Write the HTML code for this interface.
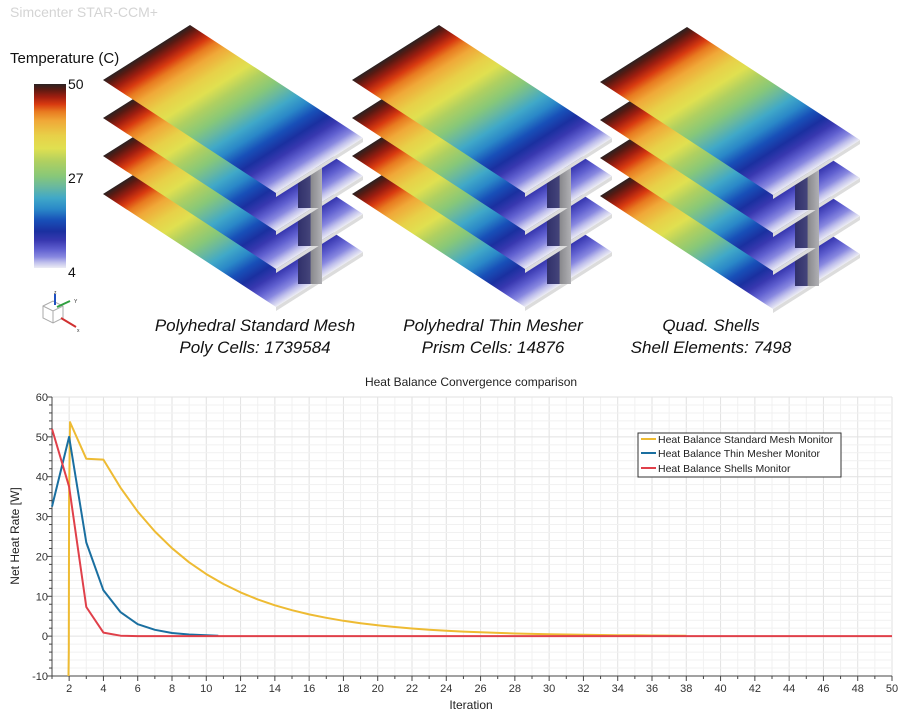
<!DOCTYPE html>
<html><head><meta charset="utf-8"><style>
html,body{margin:0;padding:0;background:#fff;width:916px;height:720px;overflow:hidden}
svg{display:block}
text{font-family:"Liberation Sans","DejaVu Sans",sans-serif}
</style></head><body>
<svg id="s" width="916" height="720" viewBox="0 0 916 720" xmlns="http://www.w3.org/2000/svg">
<defs>
<linearGradient id="pg" x1="0" y1="0" x2="1" y2="0">
<stop offset="0" stop-color="#2b2222"/><stop offset="0.03" stop-color="#5a1a12"/><stop offset="0.07" stop-color="#a01e10"/>
<stop offset="0.11" stop-color="#d83a10"/><stop offset="0.15" stop-color="#e87a20"/><stop offset="0.2" stop-color="#f0a838"/>
<stop offset="0.28" stop-color="#e8d048"/><stop offset="0.35" stop-color="#e0e050"/><stop offset="0.42" stop-color="#b0d060"/>
<stop offset="0.5" stop-color="#88c878"/><stop offset="0.56" stop-color="#68b8a0"/><stop offset="0.62" stop-color="#40a8c8"/>
<stop offset="0.68" stop-color="#2a88c8"/><stop offset="0.74" stop-color="#1850b8"/><stop offset="0.8" stop-color="#1a30a0"/>
<stop offset="0.85" stop-color="#3838b0"/><stop offset="0.9" stop-color="#6060d0"/><stop offset="0.94" stop-color="#8888e0"/>
<stop offset="0.97" stop-color="#c0c0ec"/><stop offset="1" stop-color="#ececf4"/>
</linearGradient>
<linearGradient id="cb" x1="0" y1="0" x2="0" y2="1">
<stop offset="0" stop-color="#2b2222"/><stop offset="0.03" stop-color="#5a1a12"/><stop offset="0.07" stop-color="#a01e10"/>
<stop offset="0.11" stop-color="#d83a10"/><stop offset="0.15" stop-color="#e87a20"/><stop offset="0.2" stop-color="#f0a838"/>
<stop offset="0.28" stop-color="#e8d048"/><stop offset="0.35" stop-color="#e0e050"/><stop offset="0.42" stop-color="#b0d060"/>
<stop offset="0.5" stop-color="#88c878"/><stop offset="0.56" stop-color="#68b8a0"/><stop offset="0.62" stop-color="#40a8c8"/>
<stop offset="0.68" stop-color="#2a88c8"/><stop offset="0.74" stop-color="#1850b8"/><stop offset="0.8" stop-color="#1a30a0"/>
<stop offset="0.85" stop-color="#3838b0"/><stop offset="0.9" stop-color="#6060d0"/><stop offset="0.94" stop-color="#8888e0"/>
<stop offset="0.97" stop-color="#c0c0ec"/><stop offset="1" stop-color="#ececf4"/>
</linearGradient>
<linearGradient id="fin" x1="0" y1="0" x2="1" y2="0">
<stop offset="0" stop-color="#30306a"/><stop offset="0.5" stop-color="#44447a"/><stop offset="0.55" stop-color="#8a8a8e"/><stop offset="1" stop-color="#b0b0b4"/>
</linearGradient>
</defs>
<text x="10" y="17" font-size="14" fill="#d4d4d4">Simcenter STAR-CCM+</text>
<text x="10" y="63" font-size="15" fill="#111">Temperature (C)</text>
<rect x="34" y="84" width="32" height="184" fill="url(#cb)"/>
<text x="68" y="89" font-size="14" fill="#111">50</text>
<text x="68" y="183" font-size="14" fill="#111">27</text>
<text x="68" y="277" font-size="14" fill="#111">4</text>
<g id="triad" stroke-width="1">
<path d="M43,306 L53,301 L63,306 L63,318 L53,323 L43,318 Z M43,306 L53,311 L63,306 M53,311 L53,323" fill="none" stroke="#aaa"/>
<line x1="55" y1="305" x2="55" y2="294" stroke="#2050c0" stroke-width="2"/>
<line x1="57" y1="307" x2="70" y2="301" stroke="#30a040" stroke-width="2"/>
<line x1="61" y1="318" x2="76" y2="327" stroke="#d03030" stroke-width="2"/>
<text x="54" y="294" font-size="5" fill="#333">z</text><text x="74" y="303" font-size="5" fill="#333">Y</text><text x="77" y="332" font-size="5" fill="#333">x</text>
</g>
<g id="plates"></g>
<g font-size="17" font-style="italic" fill="#111" text-anchor="middle">
<text x="255" y="331">Polyhedral Standard Mesh</text><text x="255" y="353">Poly Cells: 1739584</text>
<text x="493" y="331">Polyhedral Thin Mesher</text><text x="493" y="353">Prism Cells: 14876</text>
<text x="711" y="331">Quad. Shells</text><text x="711" y="353">Shell Elements: 7498</text>
</g>
<text x="471" y="386" font-size="12" fill="#222" text-anchor="middle">Heat Balance Convergence comparison</text>
<g id="chart"></g>
<text x="471" y="709" font-size="12" fill="#222" text-anchor="middle">Iteration</text>
<text transform="translate(19,536) rotate(-90)" font-size="12" fill="#222" text-anchor="middle">Net Heat Rate [W]</text>
<rect x="638" y="433" width="203" height="44" fill="#fff" stroke="#333" stroke-width="1"/>
<line x1="641" y1="439" x2="656" y2="439" stroke="#eebb33" stroke-width="2"/>
<line x1="641" y1="453" x2="656" y2="453" stroke="#1a6fa0" stroke-width="2"/>
<line x1="641" y1="468" x2="656" y2="468" stroke="#e0404a" stroke-width="2"/>
<g font-size="10.5" fill="#222"><text x="658" y="443">Heat Balance Standard Mesh Monitor</text>
<text x="658" y="457">Heat Balance Thin Mesher Monitor</text>
<text x="658" y="472">Heat Balance Shells Monitor</text></g>
</svg>
<script>
var NS="http://www.w3.org/2000/svg";
function el(p,n,a){var e=document.createElementNS(NS,n);for(var k in a)e.setAttribute(k,a[k]);p.appendChild(e);return e;}
var P=document.getElementById('plates');
[[103,80],[352,80],[600,82]].forEach(function(g){
  for(var k=3;k>=0;k--){
    var ox=g[0],oy=g[1]+k*38;
    // thickness
    el(P,'polygon',{points:(ox+173)+','+(oy+113)+' '+(ox+260)+','+(oy+58)+' '+(ox+260)+','+(oy+62)+' '+(ox+173)+','+(oy+117),fill:'#dcdcdc'});
    el(P,'rect',{x:0,y:0,width:1,height:1,fill:'url(#pg)',transform:'matrix(173,113,87,-55,'+ox+','+oy+')'});
    if(k>0){
      el(P,'rect',{x:g[0]+195,y:g[1]+k*38+50,width:24,height:40,fill:'url(#fin)'});
    }
  }
});
var C=document.getElementById('chart');
var X0=52,X1=892,Y0=397,Y1=676;
function px(i){return X0+(i-1)*(X1-X0)/49;}
function py(v){return Y1-(v+10)*(Y1-Y0)/70;}
for(var i=1;i<=50;i++){el(C,'line',{x1:px(i),x2:px(i),y1:Y0,y2:Y1,stroke:i%2==0?'#e2e2e2':'#f1f1f1','stroke-width':1});}
for(var v=-10;v<=60;v+=2){el(C,'line',{x1:X0,x2:X1,y1:py(v),y2:py(v),stroke:v%10==0?'#e2e2e2':'#f1f1f1','stroke-width':1});}
el(C,'line',{x1:X0,x2:X0,y1:Y0,y2:Y1,stroke:'#444'});
el(C,'line',{x1:X0,x2:X1,y1:Y1,y2:Y1,stroke:'#444'});
for(var v=-10;v<=60;v+=2){el(C,'line',{x1:X0-(v%10==0?5:3),x2:X0,y1:py(v),y2:py(v),stroke:'#444'});
 if(v%10==0){var t=el(C,'text',{x:X0-4,y:py(v)+4,'font-size':11,fill:'#333','text-anchor':'end'});t.textContent=v;}}
for(var i=1;i<=50;i++){el(C,'line',{x1:px(i),x2:px(i),y1:Y1,y2:Y1+(i%2==0?5:3),stroke:'#444'});
 if(i%2==0){var t=el(C,'text',{x:px(i),y:Y1+16,'font-size':11,fill:'#333','text-anchor':'middle'});t.textContent=i;}}
function line(pts,col){el(C,'polyline',{points:pts.map(function(p){return px(p[0]).toFixed(1)+','+py(p[1]).toFixed(1)}).join(' '),fill:'none',stroke:col,'stroke-width':2,'stroke-linejoin':'round'});}
var y=[[1.96,-10],[1.98,-3.5],[2.0,35],[2.05,53.7],[3,44.5],[4,44.3]];
for(var n=5;n<=38;n++){y.push([n,44.3*Math.pow(0.84,n-4)]);}
line(y,'#eebb33');
line([[1,32.5],[2,50],[3,23.5],[4,11.5],[5,6],[6,3],[7,1.6],[8,0.8],[9,0.4],[10,0.2],[10.7,0.1]],'#1a6fa0');
line([[1,52],[2,37.5],[3,7.3],[4,0.9],[5,0.1],[6,0],[50,0]],'#e0404a');
</script>
</body></html>
